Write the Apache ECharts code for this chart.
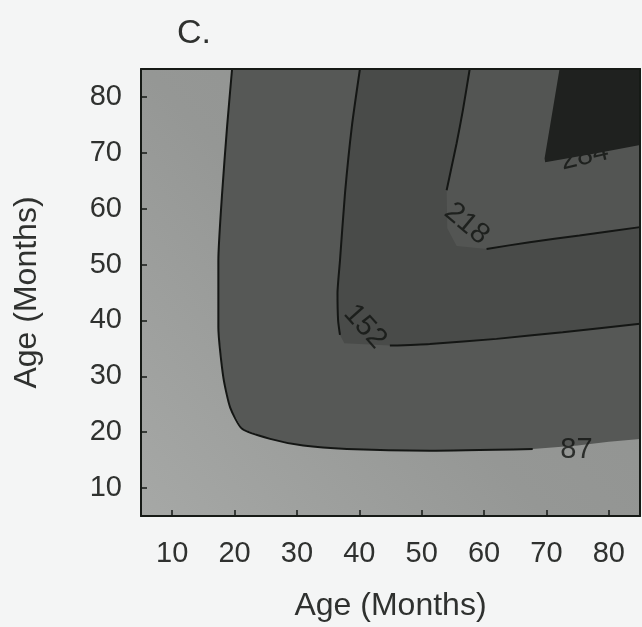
<!DOCTYPE html>
<html><head><meta charset="utf-8">
<script src="https://cdn.jsdelivr.net/npm/echarts@6/dist/echarts.min.js"></script>
<style>html,body{margin:0;padding:0;background:#f4f5f5;} #c{width:642px;height:627px;}</style>
</head><body><div id="c"></div>
<script>
// Tick labels
const xTicks = [10, 20, 30, 40, 50, 60, 70, 80];
const yTicks = [10, 20, 30, 40, 50, 60, 70, 80];
// Contour levels
const levels = [87, 152, 218, 284];
// Contour paths [age x, age y]
const contour87 = [[19.6,85],[18.8,74.7],[18.0,62.7],[17.4,50.7],[17.4,38.8],[18.2,29.8],[19.3,24.4],[21.2,20.6],[25.7,18.8],[31.0,17.6],[38.0,17.0],[51.3,16.7],[67.8,17.0],[75,17.6],[80,18.3],[85,18.8]];
const contour152 = [[40.1,85],[38.8,74.7],[37.7,62.7],[36.9,50.7],[36.5,44.8],[36.6,40.0],[36.9,37.4],[37.6,35.9],[44.9,35.5],[51.3,35.8],[62.0,36.7],[72.6,37.9],[85,39.4]];
const contour218 = [[57.7,85],[56.6,77.6],[55.6,71.7],[54.8,67.5],[54.0,63.3],[54.1,56.5],[55.6,53.3],[60.4,52.8],[67.3,54.0],[75.3,55.2],[85,56.7]];
const contour284 = [[72.1,85],[71.0,77.6],[69.7,69.0],[69.8,68.3],[78.0,69.9],[85,71.4]];
// Drawn (black) parts of each contour line, as index ranges into the paths
const line87Parts = [[0, 12]];
const line152Parts = [[0, 6], [8, 12]];
const line218Parts = [[0, 4], [7, 10]];
// Label positions and angles
const labelPos = [[74.8, 16.8], [40.9, 38.9], [57.2, 57.3], [76.1, 69.4]];
const labelRot = [0, -48, -40, 13];

const bandColors = ['#565856', '#494b49', '#535553', '#1f211f'];
const X_MIN = 5, X_MAX = 85, Y_MIN = 5, Y_MAX = 85;

const chart = echarts.init(document.getElementById('c'));
const fontFamily = '"Liberation Sans", Arial, Helvetica, sans-serif';
const textColor = '#2f312f';

function bandSeries(path, color, z) {
  const poly = path.concat([[X_MAX, Y_MAX]]);
  return {
    type: 'custom',
    data: poly,
    z: z,
    silent: true,
    renderItem: function (params, api) {
      if (params.dataIndex !== 0) return null;
      const pts = poly.map(p => api.coord(p));
      return { type: 'polygon', shape: { points: pts }, style: { fill: color } };
    }
  };
}
function lineSeries(path, parts) {
  return parts.map(r => ({
    type: 'line',
    data: path.slice(r[0], r[1] + 1),
    showSymbol: false,
    smooth: 0.2,
    z: 4,
    silent: true,
    lineStyle: { color: '#141614', width: 2 }
  }));
}

const series = [
  {
    type: 'custom',
    data: [[X_MIN, Y_MIN], [X_MAX, Y_MAX]],
    z: 1, silent: true,
    renderItem: function (params, api) {
      if (params.dataIndex !== 0) return null;
      const a = api.coord([X_MIN, Y_MAX]);
      const b = api.coord([X_MAX, Y_MIN]);
      return { type: 'rect', shape: { x: a[0], y: a[1], width: b[0] - a[0], height: b[1] - a[1] },
        style: { fill: new echarts.graphic.LinearGradient(0, 1, 1, 0, [
          { offset: 0, color: '#a6a8a6' }, { offset: 0.45, color: '#959795' }, { offset: 1, color: '#8e908e' }]) } };
    }
  },
  bandSeries(contour87, bandColors[0], 2),
  bandSeries(contour152, bandColors[1], 2),
  bandSeries(contour218, bandColors[2], 2),
  ...lineSeries(contour87, line87Parts),
  ...lineSeries(contour152, line152Parts),
  ...lineSeries(contour218, line218Parts),
  {
    type: 'scatter',
    symbolSize: 0,
    z: 6,
    silent: true,
    data: labelPos.map((p, i) => ({
      value: p,
      label: { show: true, position: 'inside', formatter: String(levels[i]), rotate: labelRot[i],
        fontSize: 29, color: '#121412', fontFamily: fontFamily }
    }))
  },
  bandSeries(contour284, bandColors[3], 7)
];

const axisCommon = {
  type: 'value', min: X_MIN, max: X_MAX, z: 10,
  splitLine: { show: false },
  axisLine: { show: true, onZero: false, lineStyle: { color: '#161a16', width: 2 } },
};

chart.setOption({
  backgroundColor: '#f4f5f5',
  animation: false,
  title: { text: 'C.', left: 172, top: 12, textStyle: { fontSize: 34, fontWeight: 'normal', color: textColor, fontFamily: fontFamily } },
  grid: { left: 141, right: 2, top: 69, bottom: 111, containLabel: false },
  xAxis: [
    Object.assign({}, axisCommon, {
      position: 'bottom',
      axisTick: { show: true, inside: true, length: 6, customValues: xTicks, lineStyle: { color: '#161a16', width: 1.5 } },
      axisLabel: { show: true, customValues: xTicks, margin: 23, fontSize: 29, color: textColor, fontFamily: fontFamily },
      name: 'Age (Months)', nameLocation: 'middle', nameGap: 74,
      nameTextStyle: { fontSize: 32, color: textColor, fontFamily: fontFamily }
    }),
    Object.assign({}, axisCommon, { position: 'top', axisTick: { show: false }, axisLabel: { show: false } })
  ],
  yAxis: [
    Object.assign({}, axisCommon, {
      min: Y_MIN, max: Y_MAX, position: 'left',
      axisTick: { show: true, inside: true, length: 6, customValues: yTicks, lineStyle: { color: '#161a16', width: 1.5 } },
      axisLabel: { show: true, customValues: yTicks, margin: 19, fontSize: 29, color: textColor, fontFamily: fontFamily },
      name: 'Age (Months)', nameLocation: 'middle', nameGap: 98,
      nameTextStyle: { fontSize: 32, color: textColor, fontFamily: fontFamily }
    }),
    Object.assign({}, axisCommon, { min: Y_MIN, max: Y_MAX, position: 'right', axisTick: { show: false }, axisLabel: { show: false } })
  ],
  series: series
});
</script></body></html>
